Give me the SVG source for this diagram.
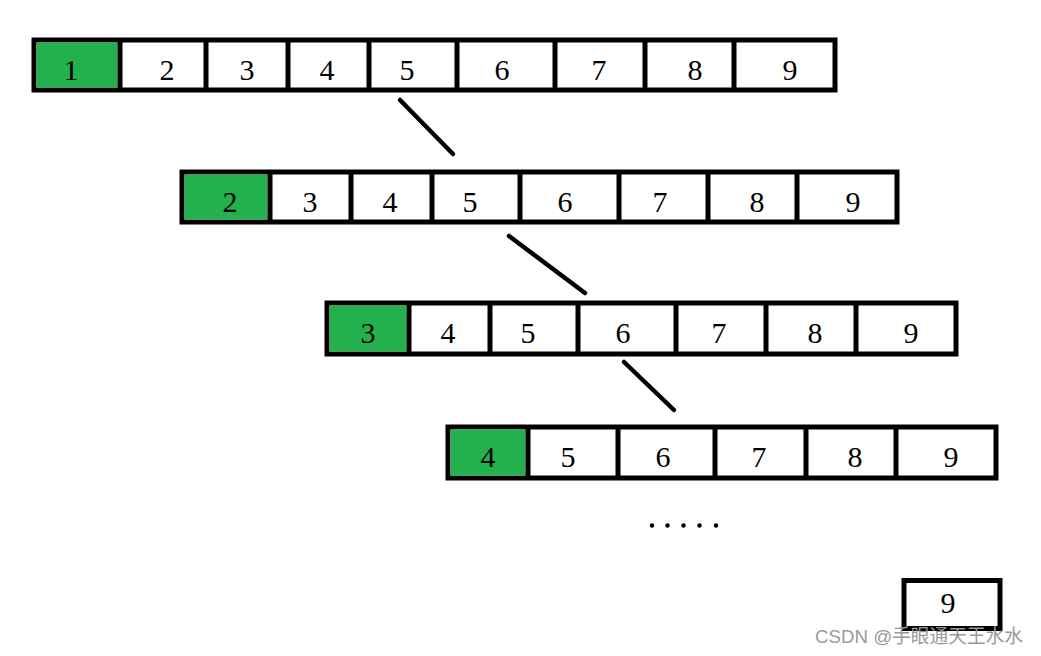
<svg xmlns="http://www.w3.org/2000/svg" width="1041" height="656" viewBox="0 0 1041 656">
<style>
.box{fill:#fff;stroke:#000;stroke-width:5}
.hl{fill:#22B14C}
.div{stroke:#000;stroke-width:5}
.n{font-family:"Liberation Serif","Times New Roman",serif;font-size:30px;fill:#000;text-anchor:middle}
.con{stroke:#000;stroke-width:4.5;stroke-linecap:round;fill:none}
.wm{font-family:"Liberation Sans","Noto Sans CJK SC",sans-serif;font-size:19px;fill:#9a9a9a}
</style>
<rect width="1041" height="656" fill="#fff"/>
<g id="row1">
<rect class="box" x="34" y="40" width="801" height="50"/>
<rect class="hl" x="36.5" y="42.5" width="81" height="45"/>
<path class="div" d="M120 40V90M206 40V90M288 40V90M369 40V90M457 40V90M555 40V90M645 40V90M734 40V90"/>
<text class="n" x="71" y="80">1</text><text class="n" x="167" y="80">2</text><text class="n" x="247" y="80">3</text><text class="n" x="327" y="80">4</text><text class="n" x="407" y="80">5</text><text class="n" x="502" y="80">6</text><text class="n" x="599" y="80">7</text><text class="n" x="695" y="80">8</text><text class="n" x="790" y="80">9</text>
</g>
<g id="row2">
<rect class="box" x="182" y="172" width="715" height="50"/>
<rect class="hl" x="184.5" y="174.5" width="83" height="45"/>
<path class="div" d="M270 172V222M351 172V222M432 172V222M520 172V222M619 172V222M708 172V222M797 172V222"/>
<text class="n" x="230" y="212">2</text><text class="n" x="310" y="212">3</text><text class="n" x="390" y="212">4</text><text class="n" x="470" y="212">5</text><text class="n" x="565" y="212">6</text><text class="n" x="660" y="212">7</text><text class="n" x="757" y="212">8</text><text class="n" x="853" y="212">9</text>
</g>
<g id="row3">
<rect class="box" x="327" y="303" width="629" height="51"/>
<rect class="hl" x="329.5" y="305.5" width="77" height="46"/>
<path class="div" d="M409 303V354M490 303V354M578 303V354M676 303V354M766 303V354M856 303V354"/>
<text class="n" x="368" y="343">3</text><text class="n" x="448" y="343">4</text><text class="n" x="528" y="343">5</text><text class="n" x="623" y="343">6</text><text class="n" x="719" y="343">7</text><text class="n" x="815" y="343">8</text><text class="n" x="911" y="343">9</text>
</g>
<g id="row4">
<rect class="box" x="448" y="427" width="548" height="51"/>
<rect class="hl" x="450.5" y="429.5" width="75" height="46"/>
<path class="div" d="M528 427V478M618 427V478M715 427V478M806 427V478M896 427V478"/>
<text class="n" x="488" y="467">4</text><text class="n" x="568" y="467">5</text><text class="n" x="663" y="467">6</text><text class="n" x="759" y="467">7</text><text class="n" x="855" y="467">8</text><text class="n" x="951" y="467">9</text>
</g>
<g id="ellipsis">
<circle cx="652" cy="525.5" r="2.2"/><circle cx="667.5" cy="525.5" r="2.2"/><circle cx="683.5" cy="525.5" r="2.2"/><circle cx="699.5" cy="525.5" r="2.2"/><circle cx="716" cy="525.5" r="2.2"/>
</g>
<g id="last">
<rect class="box" x="904" y="580.5" width="96" height="48"/>
<text class="n" x="948" y="613">9</text>
</g>
<g id="connectors">
<line class="con" x1="400" y1="100" x2="453" y2="154"/>
<line class="con" x1="509" y1="236" x2="585" y2="293"/>
<line class="con" x1="624" y1="362" x2="674" y2="410"/>
</g>
<text class="wm" x="815" y="643" textLength="208" lengthAdjust="spacingAndGlyphs">CSDN @手眼通天王水水</text>
</svg>
